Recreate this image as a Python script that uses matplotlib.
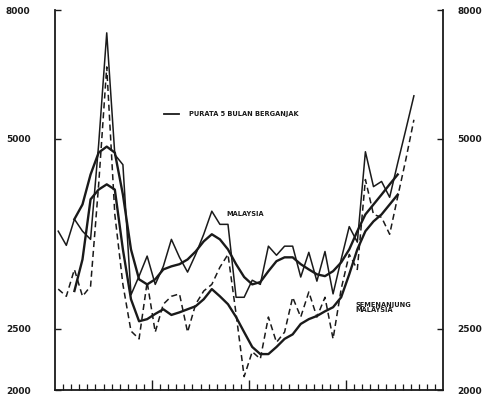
import numpy as np
import matplotlib
matplotlib.use('Agg')
import matplotlib.pyplot as plt
import matplotlib.transforms as mtransforms
from matplotlib.ticker import FixedLocator, NullFormatter

# monthly values, 45 months
malaysia = [3570, 3390, 3730, 3570, 3465, 4900, 7360, 4720, 4550, 2830,
            3030, 3260, 2940, 3140, 3465, 3245, 3075, 3280, 3530, 3840,
            3660, 3660, 2805, 2805, 2985, 2940, 3380, 3270, 3380, 3380,
            3020, 3305, 2975, 3315, 2840, 3220, 3630, 3430, 4770, 4200,
            4280, 4040, 4580, 5170, 5850]
semenanjung = [2890, 2815, 3105, 2815, 2920, 4230, 6500, 3795, 2940, 2480,
               2410, 2965, 2470, 2735, 2815, 2840, 2470, 2735, 2870, 2940,
               3130, 3280, 2640, 2100, 2300, 2240, 2610, 2380, 2470, 2805,
               2610, 2860, 2610, 2805, 2410, 2890, 3280, 3105, 4310, 3795,
               3755, 3530, 4050, 4635, 5360]

# 5-month moving averages (start at month 3)
malaysia_ma = [3730, 3935, 4390, 4755, 4860, 4755, 4080, 3340, 2995, 2940,
               2995, 3105, 3140, 3165, 3220, 3315, 3440, 3530, 3465, 3340,
               3165, 3020, 2940, 2965, 3085, 3200, 3245, 3245, 3165, 3105,
               3050, 3030, 3085, 3185, 3340, 3570, 3795, 3935, 4080, 4235,
               4390]
semenanjung_ma = [2870, 3220, 4010, 4155, 4235, 4155, 3340, 2785, 2570, 2590,
                  2640, 2685, 2630, 2655, 2685, 2715, 2785, 2890, 2815, 2735,
                  2610, 2470, 2340, 2280, 2280, 2340, 2410, 2450, 2545, 2590,
                  2620, 2665, 2705, 2805, 3050, 3340, 3570, 3700, 3795, 3935,
                  4080]

ytick_vals = [2000, 2500, 5000, 8000]
ytick_labels = ['2000', '2500', '5000', '8000']

months = np.arange(len(malaysia)) + 0.4
months_ma = months[2:2 + len(malaysia_ma)]

fig = plt.figure(figsize=(4.86, 3.95), dpi=100)
ax = fig.add_axes([55 / 486, 5 / 395, 388 / 486, 380 / 395])

ink = '#1a1a1a'
ax.plot(months, malaysia, color=ink, lw=1.1)
ax.plot(months, semenanjung, color=ink, lw=1.1, dashes=(4, 2.5))
ax.plot(months_ma, malaysia_ma, color=ink, lw=1.7)
ax.plot(months_ma, semenanjung_ma, color=ink, lw=1.7)

ax.set_yscale('log')
ax.set_ylim(2000, 8000)
ax.set_xlim(0, 48)

ax.spines['top'].set_visible(False)
for s in ['left', 'right', 'bottom']:
    ax.spines[s].set_color(ink)
    ax.spines[s].set_linewidth(1.3)

ax.yaxis.set_major_locator(FixedLocator(ytick_vals))
ax.yaxis.set_minor_locator(FixedLocator([]))
ax.yaxis.set_minor_formatter(NullFormatter())
ax.set_yticklabels(ytick_labels)
ax.tick_params(axis='y', which='major', direction='in', length=4, width=1,
               left=True, right=True, labelleft=True, labelright=True,
               colors=ink, pad=14)
# push left labels a little further out than the right ones
shift_left = mtransforms.ScaledTranslation(-5 / 100, 0, fig.dpi_scale_trans)
for t in ax.yaxis.get_major_ticks():
    for lab in (t.label1, t.label2):
        lab.set_fontweight('bold')
        lab.set_fontsize(6.5)
for lab in ax.yaxis.get_majorticklabels():
    lab.set_transform(lab.get_transform() + shift_left)

ax.xaxis.set_major_locator(FixedLocator([12, 24, 36]))
ax.xaxis.set_minor_locator(FixedLocator(np.arange(1, 48)))
ax.tick_params(axis='x', which='major', direction='in', length=7, width=1,
               labelbottom=False, colors=ink)
ax.tick_params(axis='x', which='minor', direction='in', length=4, width=0.9,
               colors=ink)

# legend-like note and labels
ax.plot([13.5, 15.3], [5470, 5470], color=ink, lw=1.3)
ax.text(16.6, 5480, 'PURATA 5 BULAN BERGANJAK', fontsize=4.8,
        fontweight='bold', va='center', ha='left', color=ink)
ax.text(23.5, 3800, 'MALAYSIA', fontsize=4.8, fontweight='bold',
        va='center', ha='center', color=ink)
ax.text(37.2, 2700, 'SEMENANJUNG\nMALAYSIA', fontsize=4.8, fontweight='bold',
        va='center', ha='left', color=ink, linespacing=0.9)

fig.savefig('out.png', dpi=100)
